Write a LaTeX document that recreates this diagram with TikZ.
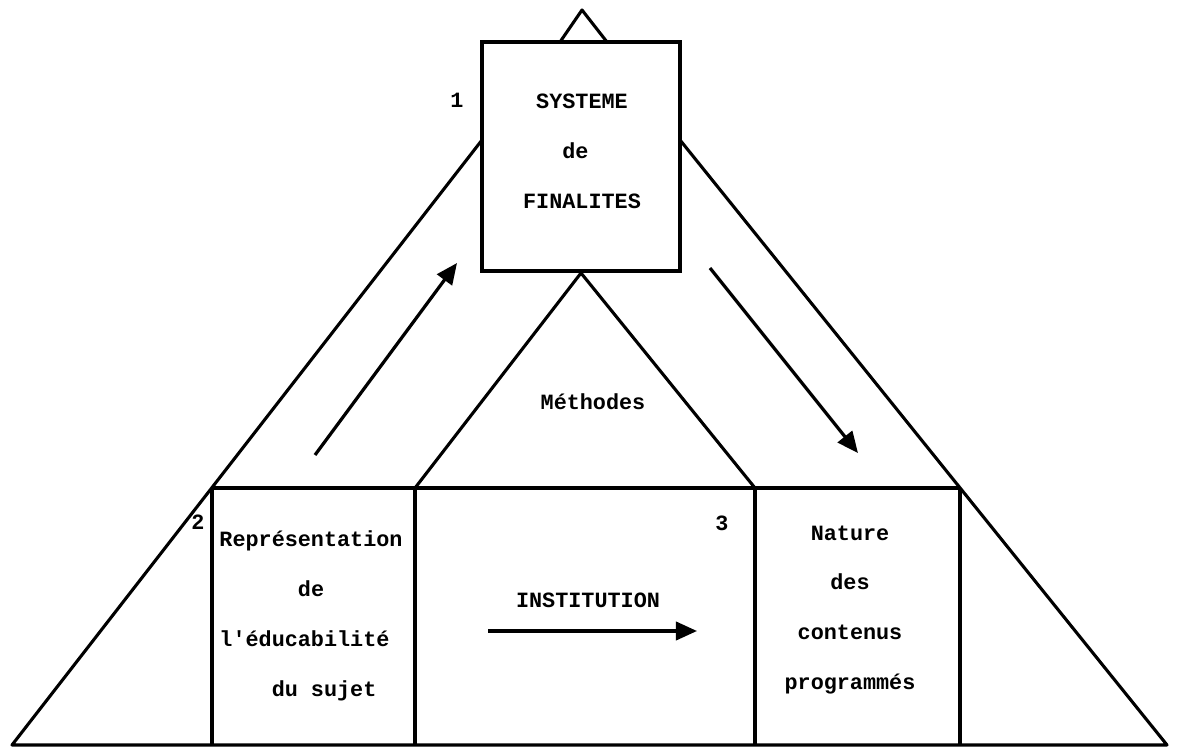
\documentclass[tikz,border=0pt]{standalone}
\usepackage{fontspec}
\setmonofont{Liberation Mono}
\usetikzlibrary{arrows.meta}

\begin{document}
\begin{tikzpicture}[x=0.025cm, y=-0.025cm,
  every node/.style={font=\ttfamily\bfseries\fontsize{15.5}{35.5}\selectfont, inner sep=0pt},
  trait/.style={line width=2.2pt, line join=round},
  cadre/.style={draw, line width=2.8pt, minimum width=4.95cm, minimum height=5.725cm},
  fleche/.style={line width=2.3pt, -{Triangle[length=15pt, width=13pt]}},
  texte/.style={align=left}
]
\useasboundingbox (0,0) rectangle (1177,747);

% sommet et bloc des finalites
\node[cadre] (fin) at (581,156.5) {};
\coordinate (pointe) at (582,10);
\draw[trait] (560,42) -- (pointe) -- (607,42);
\node[texte] (fintxt) at (582,151) {\phantom{S}SYSTEME\\\phantom{SYS}de\\FINALITES};
\node (n1) at (457,100) {1};

% grand triangle
\coordinate (g1) at (482,140);
\coordinate (d1) at (680,140);
\coordinate (gb) at (12,745);
\coordinate (db) at (1167,745);
\coordinate (gh) at (212,488);
\coordinate (dh) at (960,488);
\draw[trait] (g1) -- (gb) -- (db) -- (d1);
\draw[trait] (gh) -- (dh);

% triangle des methodes
\coordinate (m1) at (415,488);
\coordinate (m2) at (755,488);
\draw[trait] (m1) -- (fin.south) -- (m2);
\node (meth) at (593,402) {Méthodes};

% compartiments du bas
\draw[trait] (gh) -- (212,745);
\draw[trait] (m1) -- (415,745);
\draw[trait] (m2) -- (755,745);
\draw[trait] (dh) -- (960,745);

\node[texte] (rep) at (311,616) {Représentation\\\phantom{Repres}de\\l'éducabilité\\\phantom{Repr}du sujet};
\node (inst) at (588,600) {INSTITUTION};
\node[align=center] (nat) at (850,610) {Nature\\des\\contenus\\programmés};
\node (n2) at (198,522) {2};
\node (n3) at (722,523) {3};

% fleches
\coordinate (a1) at (315,455);
\coordinate (a2) at (457,263);
\coordinate (b1) at (710,268);
\coordinate (b2) at (858,453);
\coordinate (c1) at (488,631);
\coordinate (c2) at (697,631);
\draw[fleche] (a1) -- (a2);
\draw[fleche] (b1) -- (b2);
\draw[fleche] (c1) -- (c2);
\end{tikzpicture}
\end{document}
